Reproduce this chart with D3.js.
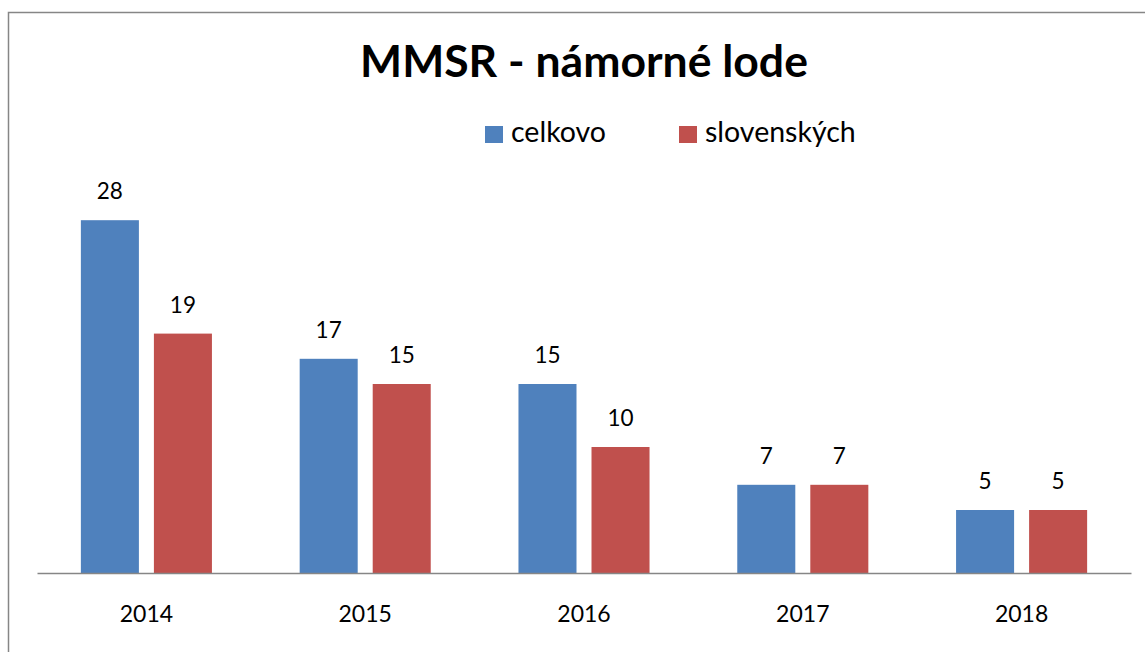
<!DOCTYPE html>
<html>
<head>
<meta charset="utf-8">
<script src="https://cdn.jsdelivr.net/npm/d3@7"></script>
<style>
    body { margin: 0; background: #fff; }
    svg { display: block; font-family: Lato, "Open Sans", sans-serif; }
</style>
</head>
<body>
<div id="chart"></div>
<script>
const years = ["2014", "2015", "2016", "2017", "2018"];
const seriesNames = ["celkovo", "slovenských"];
const celkovo = [28, 17, 15, 7, 5];
const slovenskych = [19, 15, 10, 7, 5];
const seriesColors = ["#4F81BD", "#C0504D"];

const width = 1145, height = 652;
const plot = { left: 37, right: 1131, top: 195, bottom: 573 };

const data = years.map((y, i) => ({
    year: y,
    values: [
        { key: seriesNames[0], value: celkovo[i] },
        { key: seriesNames[1], value: slovenskych[i] }
    ]
}));

const svg = d3.select("#chart")
    .append("svg")
    .attr("width", width)
    .attr("height", height);

// chart frame (runs off the right and bottom edges)
svg.append("rect")
    .attr("x", 8.5)
    .attr("y", 12.5)
    .attr("width", 1200)
    .attr("height", 700)
    .attr("fill", "white")
    .attr("stroke", "#868686")
    .attr("stroke-width", 1.5);

const x0 = d3.scaleBand()
    .domain(years)
    .range([plot.left, plot.right])
    .paddingInner(0.401)
    .paddingOuter(0.2005);

const x1 = d3.scaleBand()
    .domain(seriesNames)
    .range([0, x0.bandwidth()])
    .paddingInner(0.2055);

const yScale = d3.scaleLinear()
    .domain([0, 30])
    .range([plot.bottom, plot.top]);

const color = d3.scaleOrdinal()
    .domain(seriesNames)
    .range(seriesColors);

const groups = svg.append("g")
    .selectAll("g")
    .data(data)
    .join("g")
    .attr("transform", d => `translate(${x0(d.year)},0)`);

groups.selectAll("rect")
    .data(d => d.values)
    .join("rect")
    .attr("x", d => x1(d.key))
    .attr("y", d => yScale(d.value))
    .attr("width", x1.bandwidth())
    .attr("height", d => yScale(0) - yScale(d.value))
    .attr("fill", d => color(d.key));

groups.selectAll("text")
    .data(d => d.values)
    .join("text")
    .attr("x", d => x1(d.key) + x1.bandwidth() / 2)
    .attr("y", d => yScale(d.value) - 21)
    .attr("text-anchor", "middle")
    .attr("font-size", 22.5)
    .attr("fill", "#000")
    .text(d => d.value);

// x axis
const xAxis = svg.append("g")
    .attr("transform", `translate(0,${plot.bottom})`)
    .call(d3.axisBottom(x0).tickSize(0).tickPadding(33));

xAxis.select(".domain")
    .attr("stroke", "#868686")
    .attr("stroke-width", 1.5);

xAxis.selectAll(".tick text")
    .attr("font-family", "Lato, 'Open Sans', sans-serif")
    .attr("font-size", 23)
    .attr("fill", "#000");

// title
svg.append("text")
    .attr("x", 584)
    .attr("y", 77)
    .attr("text-anchor", "middle")
    .attr("font-size", 44.5)
    .attr("font-weight", "bold")
    .text("MMSR - námorné lode");

// legend
const legend = svg.append("g")
    .selectAll("g")
    .data(seriesNames)
    .join("g")
    .attr("transform", (d, i) => `translate(${[485, 679][i]},126)`);

legend.append("rect")
    .attr("width", 18)
    .attr("height", 17)
    .attr("fill", d => color(d));

legend.append("text")
    .attr("x", 26)
    .attr("y", 16)
    .attr("font-size", 28.5)
    .text(d => d);
</script>
</body>
</html>
